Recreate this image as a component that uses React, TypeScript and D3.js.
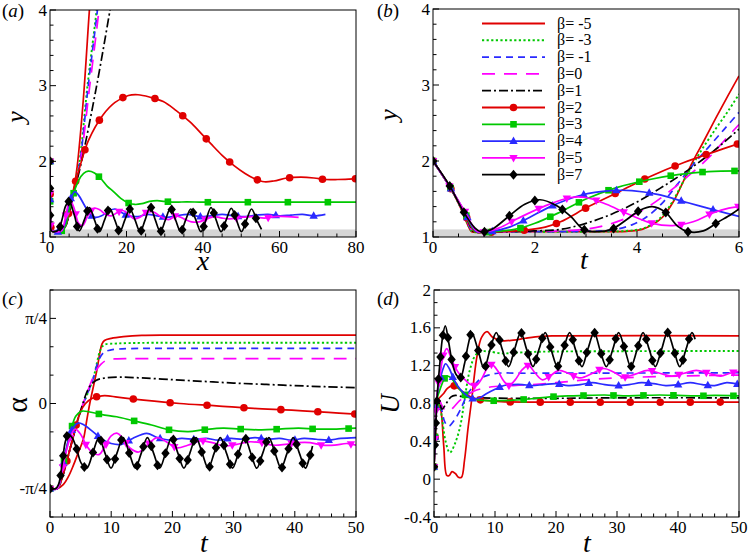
import React, { useEffect, useRef } from "react";
import * as d3 from "d3";

// ---------------- series meta ----------------
const legendLabels = ["β= -5", "β= -3", "β= -1", "β=0", "β=1", "β=2", "β=3", "β=4", "β=5", "β=7"];
const seriesColors = ["#e00000", "#00c800", "#2a2aff", "#ff00ff", "#000000", "#e00000", "#00c800", "#2a2aff", "#ff00ff", "#000000"];
const seriesDash = [null, "2.2,2.4", "7,5", "13,9", "9,3,2,3", null, null, null, null, null];
const seriesMarker = [null, null, null, null, null, "circle", "square", "triangle", "triangleDown", "diamond"];

// ---------------- panel (a): y vs x ----------------
const aBm5 = [[0,2],[0.03,1.6],[0.15,1.2],[0.5,1.08],[1.5,1.07],[3,1.08],[4,1.14],[5,1.3],[6,1.55],[7.1,1.93],[8.7,2.81],[10.3,4],[10.9,4.4]];
const aBm3 = [[0,2],[0.03,1.6],[0.15,1.2],[0.5,1.08],[1.5,1.07],[3,1.08],[4,1.14],[5,1.3],[6,1.55],[7.6,1.95],[9.8,3.0],[12.2,4],[12.8,4.3]];
const aBm1 = [[0,2],[0.03,1.6],[0.15,1.2],[0.5,1.08],[1.5,1.07],[3,1.08],[4,1.14],[5,1.3],[6,1.55],[7.7,1.95],[10,3],[12.4,4],[13,4.3]];
const aB0 = [[0,2],[0.03,1.6],[0.15,1.2],[0.5,1.08],[1.5,1.07],[3,1.08],[4,1.14],[5,1.3],[6,1.55],[7.8,1.95],[10.4,3],[12.8,4],[13.4,4.3]];
const aB1 = [[0,2],[0.03,1.6],[0.15,1.2],[0.5,1.08],[1.5,1.07],[3,1.08],[4,1.14],[5,1.3],[6,1.55],[7.9,1.92],[12.2,3],[15.7,4],[16.4,4.2]];
const aB2 = [[0,2],[0.03,1.6],[0.15,1.2],[0.5,1.08],[1.5,1.07],[3,1.08],[4,1.14],[5,1.35],[6,1.6],[7.7,1.91],[10,2.27],[13.8,2.61],[17,2.78],[20.5,2.87],[23,2.88],[26,2.85],[29.6,2.79],[33,2.67],[36.6,2.52],[39.5,2.37],[42.1,2.23],[45,2.08],[48.2,1.94],[51,1.84],[53.5,1.77],[56,1.73],[58.5,1.74],[62,1.78],[65.6,1.79],[69,1.78],[72,1.76],[75.2,1.76],[80,1.77]];
const aB3 = [[0,2],[0.03,1.6],[0.15,1.2],[0.5,1.08],[1.5,1.07],[3,1.08],[4,1.14],[5,1.35],[6,1.55],[7.5,1.75],[8.8,1.84],[10,1.87],[11.5,1.85],[13.5,1.76],[15,1.67],[16.6,1.6],[18.5,1.51],[20.5,1.45],[22.2,1.43],[24,1.44],[26,1.47],[28,1.48],[30,1.47],[33,1.46],[35.7,1.465],[40,1.46],[50,1.46],[60,1.46],[70,1.46],[80,1.46]];
const aB4 = [[0,2],[0.03,1.6],[0.15,1.2],[0.5,1.08],[1.5,1.07],[3,1.08],[4,1.2],[5,1.45],[6.5,1.6],[7.5,1.55],[9,1.42],[10.5,1.3],[11.8,1.26],[13.5,1.28],[15.5,1.35],[17,1.37],[18.5,1.33],[20.5,1.28],[23,1.27],[25.5,1.3],[28,1.28],[30.5,1.26],[33,1.28],[36,1.3],[39,1.27],[42,1.28],[45,1.3],[48,1.28],[51,1.27],[54,1.29],[57,1.3],[60,1.28],[63,1.29],[66,1.3],[69,1.28],[72,1.3]];
const aB5 = [[0,2],[0.03,1.6],[0.15,1.2],[0.5,1.08],[1.5,1.07],[3,1.08],[4,1.25],[5.2,1.49],[6.3,1.38],[7.5,1.18],[8.5,1.15],[9.8,1.27],[11.5,1.38],[13,1.36],[14.5,1.3],[16,1.28],[17.5,1.32],[19,1.35],[20.5,1.3],[22,1.24],[23.5,1.26],[25,1.32],[27,1.33],[29,1.27],[31,1.23],[33,1.28],[35,1.24],[37,1.2],[39,1.2],[41,1.24],[43,1.27],[45,1.25],[47,1.24],[50,1.26],[53,1.27],[56,1.25],[59,1.27],[62,1.27],[65,1.26]];
const aB7 = [[0,2],[0.02,1.63],[0.08,1.25],[0.4,1.08],[1.3,1.07],[2.3,1.1],[3.1,1.22],[4.1,1.41],[5.0,1.47],
  [6.3,1.3],[7.65,1.08],[9.0,1.23],[10.3,1.39],[11.6,1.23],[12.95,1.07],[14.3,1.23],[15.6,1.38],
  [16.9,1.23],[18.25,1.07],[19.6,1.23],[20.9,1.37],[22.2,1.23],[23.55,1.07],[24.9,1.23],[26.2,1.4],
  [27.5,1.23],[28.85,1.07],[30.2,1.23],[31.5,1.38],[32.8,1.23],[34.15,1.07],[35.5,1.23],[36.8,1.37],
  [38.1,1.23],[39.45,1.07],[40.8,1.23],[42.1,1.39],[43.4,1.23],[44.75,1.07],[46.1,1.23],[47.4,1.38],
  [48.7,1.23],[50.05,1.07],[51.4,1.23],[52.7,1.37],[54,1.23],[55.3,1.1]];

// ---------------- panel (b): y vs t ----------------
const bBm5 = [[0,2],[0.33,1.66],[0.55,1.37],[0.7,1.13],[0.76,1.07],[1,1.07],[2,1.07],[3,1.07],[3.8,1.075],[4.1,1.1],[4.3,1.16],[4.5,1.26],[4.7,1.45],[4.9,1.72],[5.1,2.0],[5.3,2.25],[5.55,2.57],[5.8,2.88],[6,3.12]];
const bBm3 = [[0,2],[0.33,1.66],[0.56,1.36],[0.71,1.13],[0.77,1.07],[1,1.07],[2,1.07],[3,1.07],[3.8,1.08],[4.1,1.11],[4.3,1.17],[4.5,1.28],[4.7,1.47],[4.9,1.72],[5.1,1.96],[5.3,2.18],[5.55,2.43],[5.8,2.67],[6,2.88]];
const bBm1 = [[0,2],[0.33,1.66],[0.57,1.36],[0.72,1.13],[0.78,1.07],[1,1.07],[2,1.07],[3,1.075],[3.5,1.09],[3.9,1.16],[4.2,1.27],[4.5,1.45],[4.8,1.7],[5.1,1.95],[5.4,2.18],[5.7,2.41],[6,2.64]];
const bB0 = [[0,2],[0.33,1.66],[0.58,1.35],[0.73,1.13],[0.79,1.07],[1,1.07],[2,1.075],[2.8,1.09],[3.3,1.14],[3.8,1.25],[4.2,1.39],[4.6,1.58],[5,1.8],[5.4,2.04],[5.7,2.26],[6,2.48]];
const bB1 = [[0,2],[0.33,1.66],[0.59,1.35],[0.74,1.13],[0.8,1.07],[1.2,1.07],[2,1.08],[2.5,1.1],[3,1.18],[3.5,1.3],[4,1.46],[4.5,1.66],[5,1.88],[5.5,2.13],[6,2.42]];
const bB2 = [[0,2],[0.33,1.66],[0.6,1.34],[0.76,1.12],[0.82,1.07],[1.3,1.07],[1.8,1.09],[2.2,1.13],[2.5,1.2],[3.05,1.4],[3.66,1.6],[4.27,1.8],[4.92,1.98],[5.6,2.14],[6,2.23]];
const bB3 = [[0,2],[0.33,1.66],[0.61,1.34],[0.77,1.12],[0.84,1.07],[1.2,1.07],[1.6,1.1],[2.0,1.18],[2.5,1.33],[3.0,1.5],[3.6,1.65],[4.2,1.75],[4.8,1.82],[5.4,1.86],[6,1.87]];
const bB4 = [[0,2],[0.33,1.66],[0.62,1.33],[0.79,1.12],[0.86,1.07],[1.1,1.07],[1.5,1.13],[1.9,1.26],[2.3,1.4],[2.9,1.55],[3.5,1.61],[3.9,1.61],[4.4,1.56],[5.0,1.45],[5.6,1.34],[6,1.27]];
const bB5 = [[0,2],[0.33,1.66],[0.63,1.33],[0.81,1.11],[0.88,1.07],[1.05,1.07],[1.3,1.12],[1.65,1.24],[2.2,1.41],[2.7,1.52],[3.0,1.52],[3.4,1.43],[3.8,1.31],[4.3,1.18],[4.7,1.15],[5.1,1.2],[5.5,1.32],[5.8,1.38],[6,1.4]];
const bB7 = [[0,2],[0.33,1.67],[0.6,1.33],[0.82,1.12],[0.93,1.07],[1.15,1.1],[1.5,1.28],[1.8,1.43],[2.1,1.49],[2.4,1.42],[2.7,1.27],[2.95,1.1],[3.2,1.07],[3.5,1.1],[3.8,1.23],[4.05,1.35],[4.3,1.4],[4.55,1.33],[4.8,1.14],[5.0,1.07],[5.3,1.08],[5.6,1.2],[5.85,1.3],[6,1.37]];

// ---------------- panel (c): alpha (in units of pi/4) vs t ----------------
const cBm5 = [[0,-1],[1.2,-1],[2.2,-0.95],[3,-0.86],[3.8,-0.73],[4.6,-0.58],[5.45,-0.42],[6,-0.2],[6.5,0],[7.6,0.37],[8.5,0.7],[8.9,0.74],[10,0.765],[12,0.785],[15,0.8],[20,0.803],[50,0.803]];
const cBm3 = [[0,-1],[1.2,-1],[1.9,-0.89],[3.4,-0.5],[4.9,-0.11],[7.0,0.28],[8.3,0.64],[8.9,0.69],[11,0.705],[15,0.712],[25,0.714],[50,0.714]];
const cBm1 = [[0,-1],[1.2,-1],[1.9,-0.89],[3.4,-0.5],[4.9,-0.11],[7.0,0.28],[7.9,0.5],[8.8,0.6],[10,0.63],[13,0.645],[20,0.647],[50,0.647]];
const cB0 = [[0,-1],[1.2,-1],[1.9,-0.89],[3.4,-0.5],[4.9,-0.11],[6.5,0.21],[7.4,0.37],[8.3,0.46],[9.3,0.51],[11,0.525],[15,0.526],[50,0.526]];
const cB1 = [[0,-1],[1.2,-1],[1.9,-0.89],[3.4,-0.5],[4.9,-0.11],[6.4,0.19],[7.5,0.27],[9,0.3],[11.4,0.31],[15,0.3],[20,0.28],[25,0.26],[30,0.24],[35,0.225],[40,0.21],[45,0.197],[50,0.187]];
const cB2 = [[0,-1],[1.2,-1],[1.9,-0.89],[3.4,-0.5],[4.9,-0.11],[5.8,0.0],[7,0.065],[8.5,0.09],[9.5,0.09],[11,0.075],[15.3,0.04],[21.2,0],[27.2,-0.027],[33.3,-0.058],[39.5,-0.078],[45.5,-0.105],[50,-0.125]];
const cB3 = [[0,-1],[1.2,-1],[1.8,-0.85],[2.5,-0.6],[3.3,-0.35],[4.2,-0.15],[5.2,-0.09],[6.5,-0.1],[8.5,-0.13],[10.9,-0.156],[13.5,-0.2],[16.6,-0.253],[19.5,-0.31],[22.6,-0.33],[25,-0.31],[28.3,-0.29],[31,-0.3],[34.6,-0.31],[37.5,-0.3],[40.6,-0.29],[43.5,-0.3],[46.8,-0.3],[50,-0.29]];
const cB4 = [[0,-1],[1.2,-1],[1.8,-0.85],[2.6,-0.55],[3.5,-0.32],[4.6,-0.23],[5.5,-0.25],[7,-0.33],[8.5,-0.42],[10,-0.47],[11.7,-0.48],[13.5,-0.41],[15.8,-0.35],[17.5,-0.4],[19.5,-0.43],[21.5,-0.41],[23.5,-0.42],[25.5,-0.41],[27.5,-0.43],[29.5,-0.41],[31.5,-0.42],[33.5,-0.4],[35.5,-0.42],[37.5,-0.41],[39.5,-0.43],[41.5,-0.41],[43.5,-0.42],[45.5,-0.43],[47.5,-0.41],[50,-0.4]];
const cB5 = [[0,-1],[1.2,-1],[1.8,-0.85],[2.6,-0.58],[3.4,-0.38],[4.1,-0.3],[5,-0.36],[6,-0.5],[7,-0.58],[8,-0.6],[9,-0.5],[10,-0.38],[11,-0.35],[12,-0.42],[13,-0.52],[14.5,-0.57],[16,-0.48],[17.5,-0.4],[19,-0.45],[20.7,-0.52],[22.5,-0.49],[24.5,-0.44],[26.5,-0.46],[28.5,-0.5],[30.5,-0.48],[32.5,-0.45],[34.5,-0.46],[36.5,-0.49],[38.5,-0.48],[40.5,-0.46],[42.5,-0.46],[44.5,-0.49],[46.5,-0.49],[48.5,-0.47],[50,-0.49]];
const cB7 = [[0,-1],[0.9,-1],[1.4,-0.95],[2.0,-0.7],[2.5,-0.45],[3.0,-0.36],[3.6,-0.4],[4.3,-0.52],[5.1,-0.7],[6.0,-0.76],
  [7.0,-0.58],[7.98,-0.4],[8.97,-0.58],[9.97,-0.76],[10.96,-0.58],[11.95,-0.4],[12.94,-0.58],[13.94,-0.76],
  [14.93,-0.58],[15.92,-0.4],[16.91,-0.58],[17.91,-0.76],[18.9,-0.58],[19.89,-0.4],[20.88,-0.58],[21.88,-0.76],
  [22.87,-0.58],[23.86,-0.4],[24.85,-0.58],[25.85,-0.76],[26.84,-0.58],[27.83,-0.4],[28.82,-0.58],[29.82,-0.76],
  [30.81,-0.58],[31.8,-0.4],[32.79,-0.58],[33.79,-0.76],[34.78,-0.58],[35.77,-0.4],[36.76,-0.58],[37.76,-0.76],
  [38.75,-0.58],[39.74,-0.4],[40.73,-0.58],[41.73,-0.76],[42.3,-0.66],[42.9,-0.5]];

// ---------------- panel (d): U vs t ----------------
const dBm5 = [[0,0.13],[0.25,0.55],[0.5,0.8],[0.8,0.82],[1.2,0.7],[1.6,0.35],[2.1,0.04],[2.5,0.04],[2.95,0.08],[3.5,0.06],[4.0,0.02],[4.5,0.02],[5.0,0.2],[5.6,0.55],[6.1,0.8],[7.05,1.3],[7.8,1.5],[8.7,1.56],[9.6,1.5],[11.1,1.465],[13,1.47],[15,1.49],[17.5,1.51],[20,1.515],[50,1.515]];
const dBm3 = [[0,0.13],[0.25,0.55],[0.5,0.8],[0.8,0.82],[1.3,0.65],[1.9,0.4],[2.6,0.28],[3.4,0.37],[4.3,0.56],[5.1,0.88],[5.9,1.16],[6.8,1.31],[7.8,1.35],[9,1.35],[11,1.33],[13,1.335],[16,1.345],[20,1.35],[50,1.355]];
const dBm1 = [[0,0.13],[0.25,0.55],[0.5,0.8],[0.8,0.83],[1.3,0.72],[1.8,0.6],[2.4,0.56],[3.3,0.62],[4.3,0.73],[5.5,0.9],[6.7,1.0],[7.8,1.07],[8.9,1.1],[10.5,1.12],[15,1.12],[50,1.125]];
const dB0 = [[0,0.13],[0.25,0.55],[0.5,0.8],[0.8,0.84],[1.3,0.78],[1.8,0.73],[2.4,0.72],[3.2,0.76],[4.2,0.83],[5.2,0.88],[6.5,0.93],[8,0.96],[10,0.98],[13,0.99],[16,1.0],[20,1.02],[25,1.05],[30,1.07],[40,1.09],[50,1.1]];
const dB1 = [[0,0.13],[0.25,0.55],[0.5,0.8],[0.9,0.8],[1.3,0.74],[2.0,0.8],[2.8,0.87],[3.5,0.885],[4.5,0.875],[6,0.865],[8,0.86],[12,0.855],[20,0.855],[30,0.86],[50,0.86]];
const dB2 = [[0,0.13],[0.25,0.55],[0.5,0.82],[0.9,0.86],[1.5,0.9],[2.2,0.96],[3,0.99],[3.8,0.97],[4.8,0.92],[6,0.87],[7.5,0.84],[9,0.83],[11,0.82],[15,0.815],[50,0.815]];
const dB3 = [[0,0.13],[0.25,0.6],[0.5,0.85],[1,0.95],[1.6,1.05],[2.1,1.09],[2.8,1.07],[3.6,1.0],[4.6,0.92],[5.8,0.86],[7,0.84],[8.5,0.83],[10.6,0.83],[13,0.835],[16,0.85],[19,0.87],[22,0.88],[25,0.885],[28,0.89],[31,0.88],[34,0.885],[37,0.89],[40,0.885],[43,0.88],[46,0.885],[50,0.88]];
const dB4 = [[0,0.13],[0.25,0.6],[0.5,0.88],[1,1.05],[1.5,1.17],[1.9,1.22],[2.5,1.17],[3.3,1.05],[4.3,0.95],[5.5,0.88],[6.5,0.85],[7.5,0.86],[8.5,0.9],[10,0.95],[11.5,0.99],[13,1.0],[14.5,1.0],[16,0.99],[18,1.0],[20,1.01],[22,0.99],[24,1.0],[26,1.02],[28,1.0],[30,0.99],[32,1.0],[34,1.02],[36,1.01],[38,0.99],[40,1.0],[42,1.02],[44,1.0],[46,0.99],[48,1.02],[50,1.0]];
const dB5 = [[0,0.13],[0.25,0.6],[0.5,0.9],[1,1.1],[1.5,1.3],[2.1,1.38],[2.8,1.28],[3.5,1.18],[4.3,1.1],[5.1,1.05],[6,1.0],[6.9,0.99],[7.8,1.06],[8.7,1.17],[9.5,1.21],[10.5,1.14],[11.4,1.04],[12.3,0.99],[13.3,1.05],[14.5,1.16],[15.5,1.2],[16.6,1.12],[17.8,1.05],[19,1.09],[20.5,1.15],[22,1.12],[24,1.07],[26,1.12],[27.8,1.17],[29.5,1.13],[31,1.08],[33,1.11],[35,1.15],[37,1.12],[39,1.09],[41,1.12],[43,1.15],[45,1.12],[47,1.09],[48.5,1.12],[50,1.14]];
const dB7 = [[0,0.13],[0.2,0.44],[0.4,0.72],[0.6,0.95],[1.0,1.25],[1.4,1.5],[1.85,1.62],[2.4,1.45],[3.0,1.23],[3.6,1.11],[4.3,1.07],[5.0,1.22],[5.6,1.42],[6.2,1.55],
  [7.2,1.37],[8.2,1.17],[9.2,1.37],[10.21,1.55],[11.2,1.37],[12.22,1.19],[13.2,1.37],[14.22,1.55],
  [15.2,1.37],[16.23,1.19],[17.2,1.37],[18.23,1.55],[19.2,1.37],[20.24,1.19],[21.2,1.37],[22.24,1.55],
  [23.2,1.37],[24.25,1.19],[25.2,1.37],[26.25,1.55],[27.2,1.37],[28.26,1.19],[29.3,1.37],[30.26,1.55],
  [31.3,1.37],[32.27,1.19],[33.3,1.37],[34.27,1.55],[35.3,1.37],[36.28,1.19],[37.3,1.37],[38.28,1.55],
  [39.3,1.37],[40.29,1.19],[41.3,1.37],[42.29,1.55],[42.8,1.48]];

// ---------------- axes ----------------
const aXTicks = [0, 20, 40, 60, 80];
const aYTicks = [1, 2, 3, 4];
const bXTicks = [0, 2, 4, 6];
const bYTicks = [1, 2, 3, 4];
const cXTicks = [0, 10, 20, 30, 40, 50];
const cYTicks = [-1, 0, 1];
const cYTickLabels = ["-π/4", "0", "π/4"];
const dXTicks = [0, 10, 20, 30, 40, 50];
const dYTicks = [-0.4, 0, 0.4, 0.8, 1.2, 1.6, 2];
const dYTickLabels = ["-0.4", "0", "0.4", "0.8", "1.2", "1.6", "2"];

const FONT = "'Liberation Serif', 'Times New Roman', Times";

type Panel = {
  box: { left: number; right: number; top: number; bottom: number };
  xDomain: [number, number];
  yDomain: [number, number];
  xTicks: number[];
  yTicks: number[];
  xLabels: string[];
  yLabels: string[];
  xMinor: number;
  yMinor: number;
  band: [number, number] | null;
  series: number[][][];
  markerGap: number[];
  letter: string;
  labelPos: [number, number];
  xTitle: string;
  xTitlePos: [number, number];
  yTitle: string;
  yTitlePos: [number, number];
  yTitleSize: number;
  yTitleItalic: boolean;
};

const panels: Panel[] = [
  {
    box: { left: 50, right: 356, top: 10, bottom: 237 },
    xDomain: [0, 80], yDomain: [1, 4],
    xTicks: aXTicks, yTicks: aYTicks,
    xLabels: aXTicks.map(String), yLabels: aYTicks.map(String),
    xMinor: 4, yMinor: 5, band: [1, 1.1],
    series: [aBm5, aBm3, aBm1, aB0, aB1, aB2, aB3, aB4, aB5, aB7],
    markerGap: [0, 0, 0, 0, 0, 33, 40, 38, 32, 27],
    letter: "a", labelPos: [2, 17],
    xTitle: "x", xTitlePos: [203, 270],
    yTitle: "y", yTitlePos: [24, 117], yTitleSize: 26, yTitleItalic: true,
  },
  {
    box: { left: 433, right: 739, top: 9, bottom: 237 },
    xDomain: [0, 6], yDomain: [1, 4],
    xTicks: bXTicks, yTicks: bYTicks,
    xLabels: bXTicks.map(String), yLabels: bYTicks.map(String),
    xMinor: 4, yMinor: 5, band: [1, 1.1],
    series: [bBm5, bBm3, bBm1, bB0, bB1, bB2, bB3, bB4, bB5, bB7],
    markerGap: [0, 0, 0, 0, 0, 33, 32, 33, 30, 30],
    letter: "b", labelPos: [377, 17],
    xTitle: "t", xTitlePos: [584, 269],
    yTitle: "y", yTitlePos: [397, 115], yTitleSize: 26, yTitleItalic: true,
  },
  {
    box: { left: 50, right: 356, top: 290, bottom: 517 },
    xDomain: [0, 50], yDomain: [-4 / 3, 4 / 3],
    xTicks: cXTicks, yTicks: cYTicks,
    xLabels: cXTicks.map(String), yLabels: cYTickLabels,
    xMinor: 5, yMinor: 3, band: null,
    series: [cBm5, cBm3, cBm1, cB0, cB1, cB2, cB3, cB4, cB5, cB7],
    markerGap: [0, 0, 0, 0, 0, 37, 36, 34, 30, 20],
    letter: "c", labelPos: [2, 305],
    xTitle: "t", xTitlePos: [204, 552],
    yTitle: "α", yTitlePos: [27, 405], yTitleSize: 30, yTitleItalic: false,
  },
  {
    box: { left: 434, right: 739, top: 290, bottom: 517 },
    xDomain: [0, 50], yDomain: [-0.4, 2],
    xTicks: dXTicks, yTicks: dYTicks,
    xLabels: dXTicks.map(String), yLabels: dYTickLabels,
    xMinor: 5, yMinor: 3, band: null,
    series: [dBm5, dBm3, dBm1, dB0, dB1, dB2, dB3, dB4, dB5, dB7],
    markerGap: [0, 0, 0, 0, 0, 30, 30, 30, 28, 22],
    letter: "d", labelPos: [377, 305],
    xTitle: "t", xTitlePos: [587, 552],
    yTitle: "U", yTitlePos: [399, 404], yTitleSize: 27, yTitleItalic: true,
  },
];

function minorValues(major: number[], sub: number, domain: [number, number]) {
  const out: number[] = [];
  const step = (major[1] - major[0]) / sub;
  const lo = Math.min(domain[0], domain[1]);
  const hi = Math.max(domain[0], domain[1]);
  for (let v = major[0] - step; v >= lo - 1e-9; v -= step) out.push(v);
  for (let i = 0; i < major.length - 1; i++) {
    for (let k = 1; k < sub; k++) out.push(major[i] + k * step);
  }
  for (let v = major[major.length - 1] + step; v <= hi + 1e-9; v += step) out.push(v);
  return out;
}

function drawMarker(g: any, shape: string, cx: number, cy: number, color: string) {
  if (shape === "circle") {
    g.append("circle").attr("cx", cx).attr("cy", cy).attr("r", 3.8).attr("fill", color);
  } else if (shape === "square") {
    g.append("rect").attr("x", cx - 3.3).attr("y", cy - 3.3).attr("width", 6.6).attr("height", 6.6).attr("fill", color);
  } else if (shape === "triangle") {
    g.append("path").attr("d", `M${cx},${cy - 4.6}L${cx + 4.2},${cy + 2.9}L${cx - 4.2},${cy + 2.9}Z`).attr("fill", color);
  } else if (shape === "triangleDown") {
    g.append("path").attr("d", `M${cx},${cy + 4.6}L${cx + 4.2},${cy - 2.9}L${cx - 4.2},${cy - 2.9}Z`).attr("fill", color);
  } else if (shape === "diamond") {
    g.append("path").attr("d", `M${cx},${cy - 5}L${cx + 4.2},${cy}L${cx},${cy + 5}L${cx - 4.2},${cy}Z`).attr("fill", color);
  }
}

function addText(g: any, str: string, size: number) {
  return g.append("text").style("font-family", FONT).style("font-size", `${size}px`).attr("fill", "#000").text(str);
}

function drawPanel(svg: any, p: Panel, pi: number) {
  const { box } = p;
  const x = d3.scaleLinear().domain(p.xDomain).range([box.left, box.right]);
  const y = d3.scaleLinear().domain(p.yDomain).range([box.bottom, box.top]);
  const clipId = `clip-panel-${pi}`;
  svg.append("defs").append("clipPath").attr("id", clipId)
    .append("rect").attr("x", box.left).attr("y", box.top)
    .attr("width", box.right - box.left).attr("height", box.bottom - box.top);

  const g = svg.append("g");
  if (p.band) {
    g.append("rect").attr("x", box.left).attr("y", y(p.band[1]))
      .attr("width", box.right - box.left).attr("height", y(p.band[0]) - y(p.band[1]))
      .attr("fill", "#d6d6d6");
  }
  const plot = g.append("g").attr("clip-path", `url(#${clipId})`);
  const line = d3.line<number[]>().x((d) => x(d[0])).y((d) => y(d[1])).curve(d3.curveCatmullRom.alpha(0.5));

  p.series.forEach((data, si) => {
    const path = plot.append("path").attr("d", line(data)).attr("fill", "none")
      .attr("stroke", seriesColors[si]).attr("stroke-width", si === 1 ? 1.9 : 1.7)
      .attr("stroke-linejoin", "round")
      .attr("stroke-dasharray", seriesDash[si]);
    const shape = seriesMarker[si];
    if (shape) {
      const node = path.node() as SVGPathElement;
      const total = node.getTotalLength();
      const gap = p.markerGap[si];
      for (let s = 0; s <= total; s += gap) {
        const pt = node.getPointAtLength(s);
        if (pt.x < box.left - 1 || pt.x > box.right + 1 || pt.y < box.top - 1 || pt.y > box.bottom + 1) continue;
        drawMarker(plot, shape, pt.x, pt.y, seriesColors[si]);
      }
    }
  });

  // frame
  g.append("rect").attr("x", box.left).attr("y", box.top)
    .attr("width", box.right - box.left).attr("height", box.bottom - box.top)
    .attr("fill", "none").attr("stroke", "#000").attr("stroke-width", 1);

  // ticks
  const tickG = g.append("g").attr("stroke", "#000").attr("stroke-width", 1);
  p.xTicks.forEach((v) => tickG.append("line").attr("x1", x(v)).attr("x2", x(v)).attr("y1", box.bottom).attr("y2", box.bottom - 6));
  minorValues(p.xTicks, p.xMinor, p.xDomain).forEach((v) => tickG.append("line").attr("x1", x(v)).attr("x2", x(v)).attr("y1", box.bottom).attr("y2", box.bottom - 3.5));
  p.yTicks.forEach((v) => tickG.append("line").attr("x1", box.left).attr("x2", box.left + 6).attr("y1", y(v)).attr("y2", y(v)));
  minorValues(p.yTicks, p.yMinor, p.yDomain).forEach((v) => tickG.append("line").attr("x1", box.left).attr("x2", box.left + 3.5).attr("y1", y(v)).attr("y2", y(v)));

  // tick labels
  p.xTicks.forEach((v, i) => {
    addText(g, p.xLabels[i], 17).attr("x", x(v)).attr("y", box.bottom + 16).attr("text-anchor", "middle");
  });
  p.yTicks.forEach((v, i) => {
    addText(g, p.yLabels[i], 17).attr("x", box.left - 3).attr("y", y(v) + 5.5).attr("text-anchor", "end");
  });

  // axis titles
  addText(g, p.xTitle, 28).attr("x", p.xTitlePos[0]).attr("y", p.xTitlePos[1]).attr("text-anchor", "middle")
    .style("font-style", "italic");
  addText(g, p.yTitle, p.yTitleSize)
    .attr("transform", `translate(${p.yTitlePos[0]},${p.yTitlePos[1]}) rotate(-90)`)
    .attr("text-anchor", "middle")
    .style("font-style", p.yTitleItalic ? "italic" : "normal");

  // panel letter
  const lab = g.append("text").attr("x", p.labelPos[0]).attr("y", p.labelPos[1])
    .style("font-family", FONT).style("font-size", "19px").attr("fill", "#000");
  lab.append("tspan").text("(");
  lab.append("tspan").style("font-style", "italic").text(p.letter);
  lab.append("tspan").text(")");
}

function drawLegend(svg: any) {
  const g = svg.append("g");
  const x1 = 482, x2 = 545, textX = 557, y0 = 23.5, dy = 16.8;
  legendLabels.forEach((label, i) => {
    const yy = y0 + i * dy;
    g.append("line").attr("x1", x1).attr("x2", x2).attr("y1", yy).attr("y2", yy)
      .attr("stroke", seriesColors[i]).attr("stroke-width", i === 1 ? 1.9 : 1.8)
      .attr("stroke-dasharray", seriesDash[i]);
    const shape = seriesMarker[i];
    if (shape) drawMarker(g, shape, (x1 + x2) / 2, yy, seriesColors[i]);
    addText(g, label, 16).attr("x", textX).attr("y", yy + 5);
  });
}

export default function App() {
  const ref = useRef<SVGSVGElement>(null);
  useEffect(() => {
    const svg = d3.select(ref.current);
    svg.selectAll("*").remove();
    svg.append("rect").attr("x", 0).attr("y", 0).attr("width", 750).attr("height", 557).attr("fill", "#fff");
    panels.forEach((p, pi) => drawPanel(svg, p, pi));
    drawLegend(svg);
  }, []);
  return (
    <svg ref={ref} width={750} height={557} style={{ position: "absolute", left: 0, top: 0, display: "block" }} />
  );
}
